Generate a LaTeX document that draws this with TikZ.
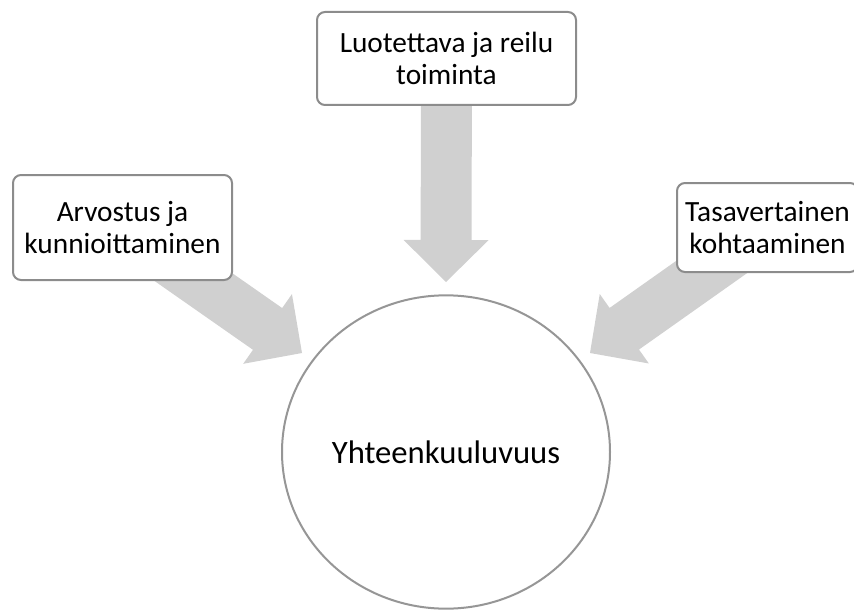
\documentclass[tikz,border=0pt]{standalone}
\usepackage{fontspec}
\setmainfont{Carlito}
\usetikzlibrary{calc,shapes.geometric}

\definecolor{boxline}{RGB}{140,140,140}
\definecolor{ringline}{RGB}{150,150,150}
\definecolor{arrowfill}{RGB}{208,208,208}

\pgfdeclarelayer{background}
\pgfsetlayers{background,main}

% Broad block arrow: #1 prefix for helper coordinates, #2 tail, #3 tip
\newcommand\radialarrow[3]{%
  \coordinate (#1neck) at ($(#3)!31.5pt!(#2)$);
  \fill[arrowfill]
    ($(#2)!19.1pt!90:(#3)$) -- ($(#1neck)!19.1pt!90:(#3)$)
    -- ($(#1neck)!31.9pt!90:(#3)$) -- (#3)
    -- ($(#1neck)!31.9pt!-90:(#3)$) -- ($(#1neck)!19.1pt!-90:(#3)$)
    -- ($(#2)!19.1pt!-90:(#3)$) -- cycle;
}

\begin{document}
\begin{tikzpicture}[x=0.75pt,y=-0.75pt,
  labelbox/.style={draw=boxline, line width=1.5pt, rounded corners=6pt,
    fill=white, align=center, inner sep=0pt,
    font=\fontsize{22}{24}\selectfont},
  ring/.style={ellipse, draw=ringline, line width=1.5pt, fill=white,
    inner sep=0pt, font=\fontsize{24.5}{28}\selectfont}]
\useasboundingbox (0,0) rectangle (854,610);

% outer value boxes
\node[labelbox, minimum width=194.25pt, minimum height=69.75pt] (trust)
  at (446.5,58.5) {Luotettava ja reilu\\toiminta};
\node[labelbox, minimum width=164.25pt, minimum height=78.75pt] (respect)
  at (122.5,227.5) {Arvostus ja\\kunnioittaminen};
\node[labelbox, minimum width=135.75pt, minimum height=66.75pt] (equal)
  at (767.5,227.5) {Tasavertainen\\kohtaaminen};

% central circle
\node[ring, minimum width=246pt, minimum height=235pt] (belong)
  at (446,452) {Yhteenkuuluvuus};

% arrow tips just outside the circle
\coordinate (tipT) at (446,282);
\coordinate (tipL) at (302,353);
\coordinate (tipR) at (590,353);

\begin{pgfonlayer}{background}
  \radialarrow{aT}{trust.center}{tipT}
  \radialarrow{aL}{respect.center}{tipL}
  \radialarrow{aR}{equal.center}{tipR}
\end{pgfonlayer}
\end{tikzpicture}
\end{document}
